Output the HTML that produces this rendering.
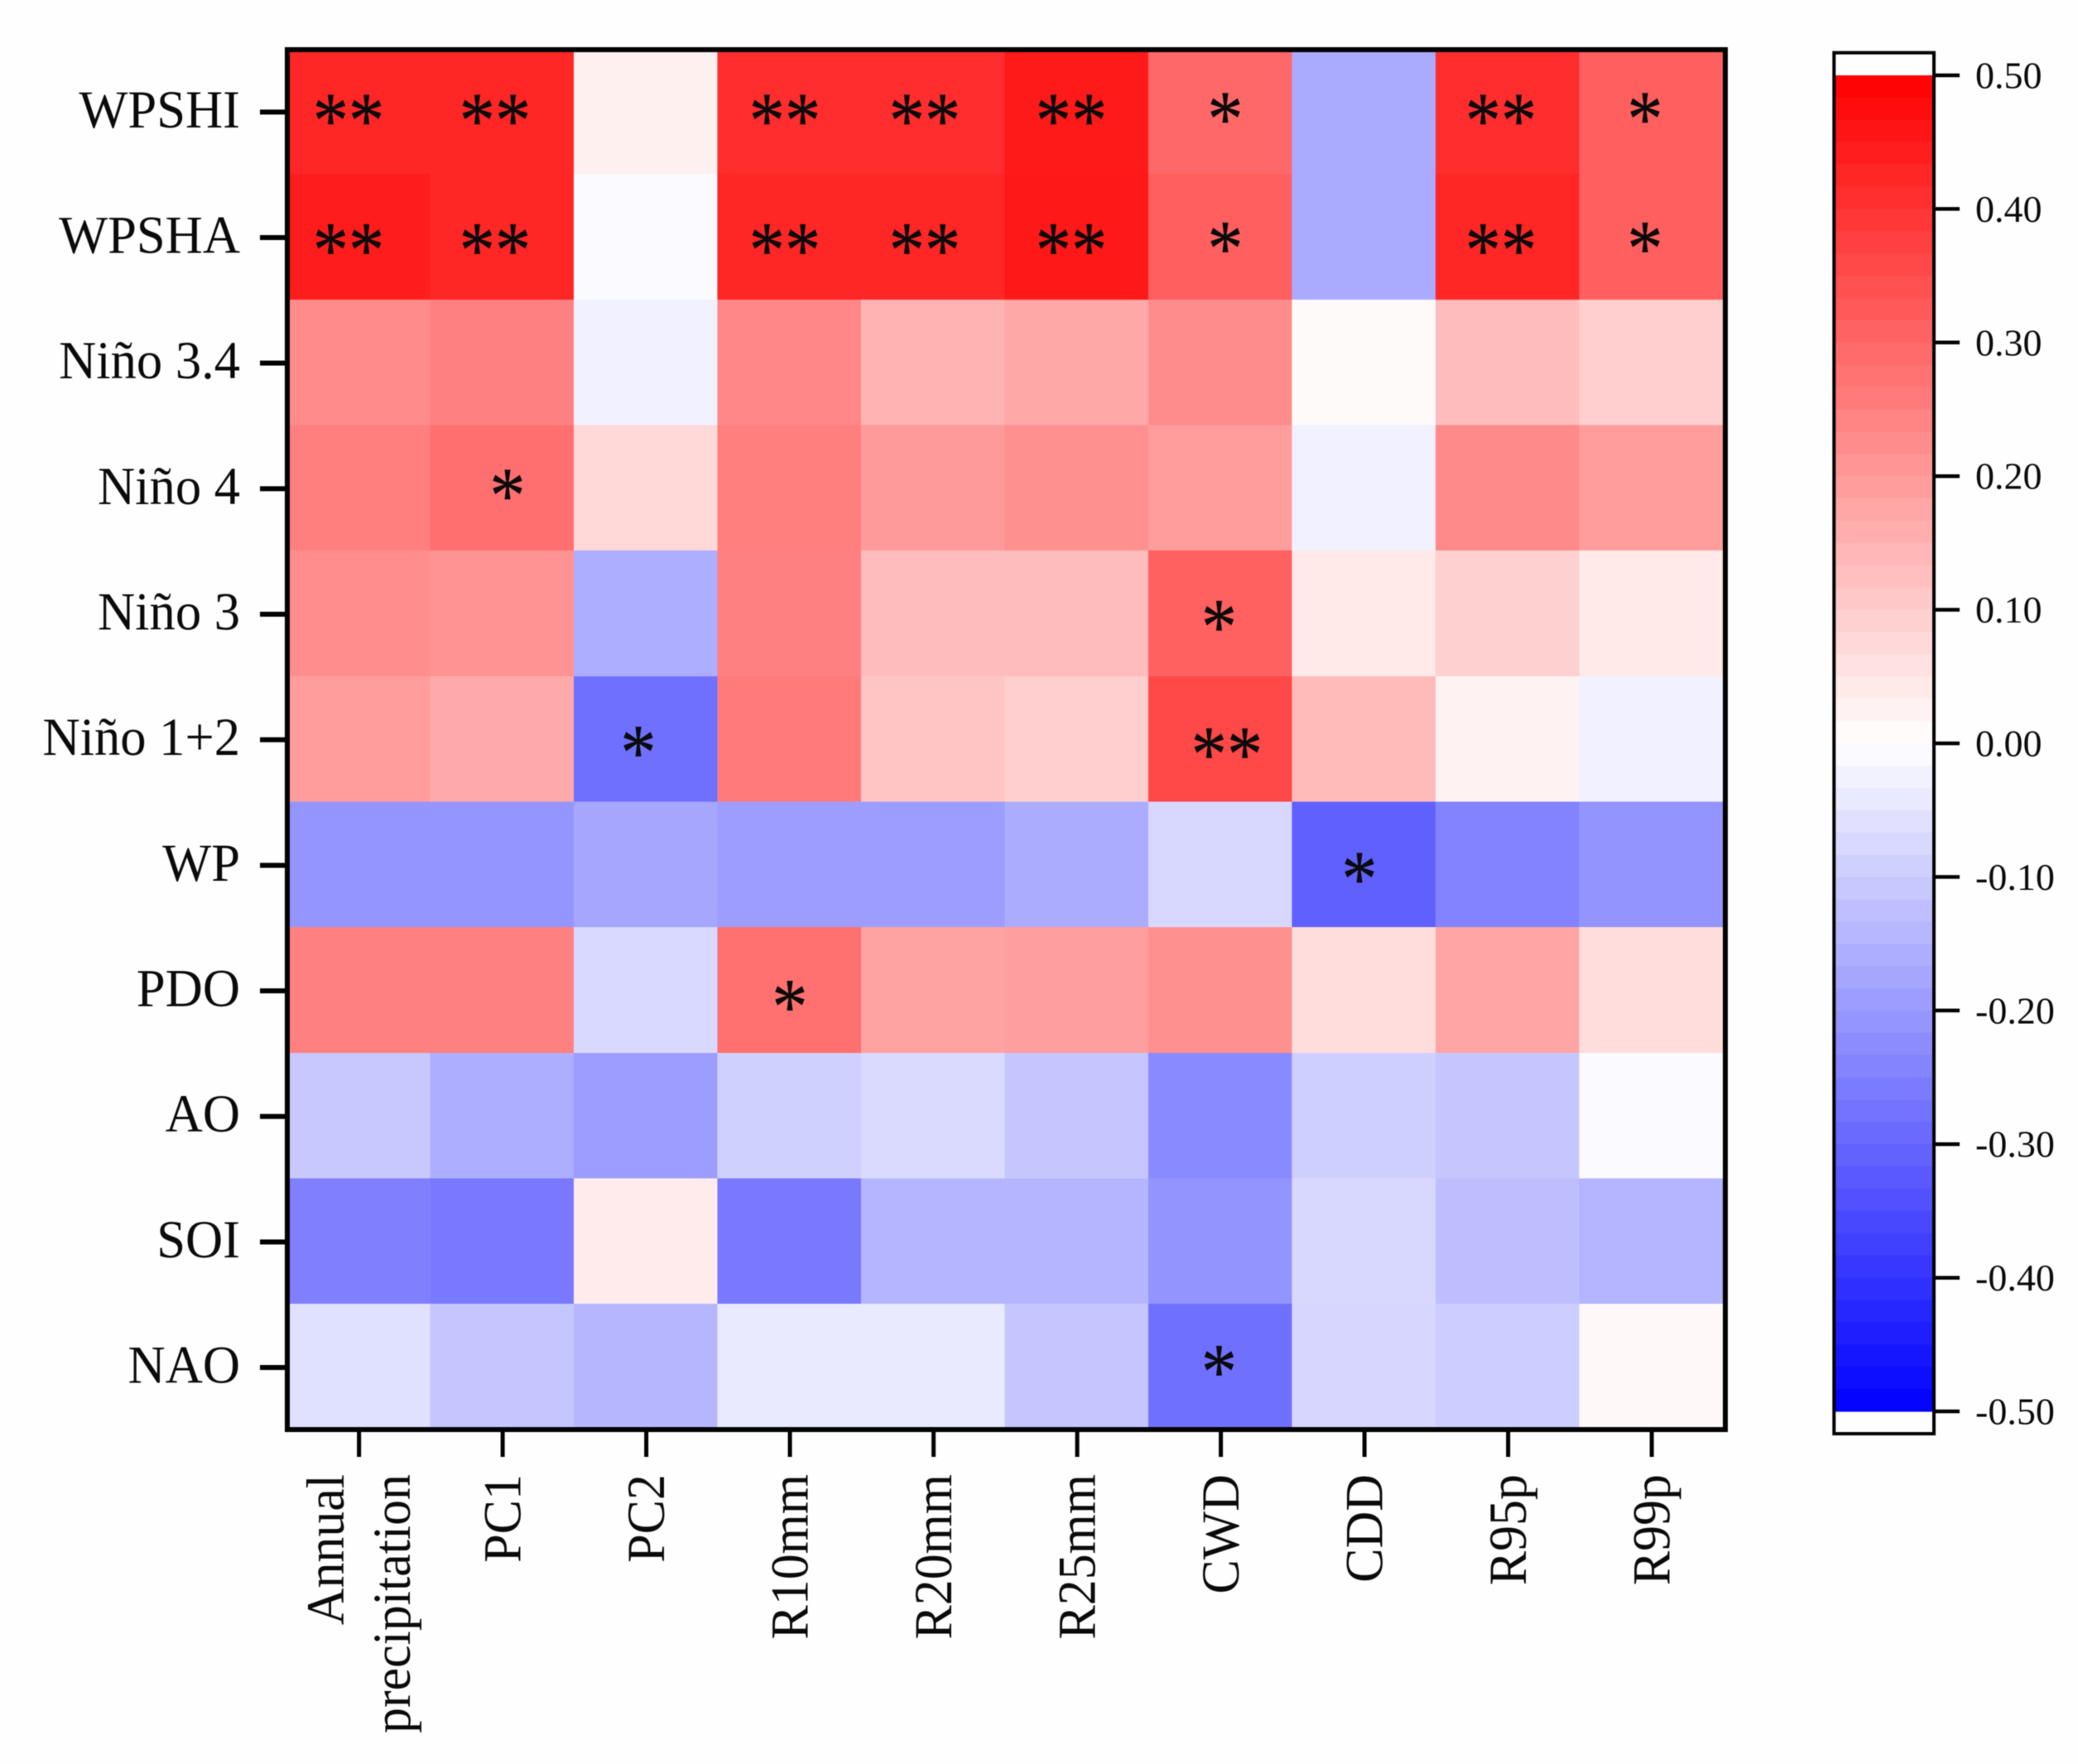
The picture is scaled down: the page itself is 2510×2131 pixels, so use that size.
<!DOCTYPE html>
<html lang="en">
<head>
<meta charset="utf-8">
<title>Correlation heatmap</title>
<style>
html,body{margin:0;padding:0;background:#fff;}
svg{display:block;filter:blur(0.6px);}
text{font-family:"Liberation Serif","Noto Serif CJK SC",serif;fill:#0a0a0a;}
</style>
</head>
<body>
<svg id="chart" xmlns="http://www.w3.org/2000/svg" width="2510" height="2131" viewBox="0 0 2510 2131"></svg>
<script>
const rowLabels = ["WPSHI","WPSHA","Niño 3.4","Niño 4","Niño 3","Niño 1+2","WP","PDO","AO","SOI","NAO"];
const colLabels = [["Annual","precipitation"],["PC1"],["PC2"],["R10mm"],["R20mm"],["R25mm"],["CWD"],["CDD"],["R95p"],["R99p"]];
const correlations = [
  [ .425, .425, .029, .412, .412, .449, .296,-.167, .412, .314],
  [ .445, .425,-.008, .425, .425, .453, .314,-.167, .425, .314],
  [ .227, .249,-.027, .235, .149, .171, .225, .010, .131, .094],
  [ .251, .282, .076, .251, .198, .218, .194,-.027, .229, .192],
  [ .224, .214,-.159, .249, .131, .131, .312, .043, .092, .043],
  [ .192, .167,-.280, .261, .114, .094, .359, .135, .025,-.027],
  [-.208,-.208,-.175,-.192,-.192,-.163,-.076,-.312,-.243,-.210],
  [ .249, .249,-.075, .280, .182, .190, .218, .067, .176, .067],
  [-.108,-.159,-.192,-.092,-.073,-.112,-.229,-.094,-.112,-.010],
  [-.249,-.263, .039,-.263,-.145,-.145,-.210,-.076,-.127,-.147],
  [-.061,-.112,-.143,-.041,-.041,-.112,-.280,-.080,-.098, .014]
];
const significance = [
  ["**","**","","**","**","**","*","","**","*"],
  ["**","**","","**","**","**","*","","**","*"],
  ["","","","","","","","","",""],
  ["","*","","","","","","","",""],
  ["","","","","","","*","","",""],
  ["","","*","","","","**","","",""],
  ["","","","","","","","*","",""],
  ["","","","*","","","","","",""],
  ["","","","","","","","","",""],
  ["","","","","","","","","",""],
  ["","","","","","","*","","",""]
];
const colorbarTicks = [0.5,0.4,0.3,0.2,0.1,0,-0.1,-0.2,-0.3,-0.4,-0.5];
const colorbarTickLabels = ["0.50","0.40","0.30","0.20","0.10","0.00","-0.10","-0.20","-0.30","-0.40","-0.50"];

const SVG_NS = "http://www.w3.org/2000/svg";
const chart = document.getElementById("chart");

function make(tag, attrs, parent) {
  const node = document.createElementNS(SVG_NS, tag);
  for (const key in attrs) node.setAttribute(key, attrs[key]);
  (parent || chart).appendChild(node);
  return node;
}

/* Axis functions */
const plotLeft = 346.2, colWidth = 173.5, plotTop = 58.5, rowHeight = 151.67;
function xLeft(c) { return plotLeft + c * colWidth; }
function xMid(c) { return xLeft(c) + colWidth / 2; }
function yTop(r) { return plotTop + r * rowHeight; }
function yMid(r) { return yTop(r) + rowHeight / 2; }
function cbY(v) { return 898 - v * 1614; }

/* Diverging colour scale: blue (-0.5) - white (0) - red (+0.5) */
function color(v) {
  const g = Math.round(255 * (1 - Math.min(0.5, Math.abs(v)) / 0.5));
  return v >= 0 ? `rgb(255,${g},${g})` : `rgb(${g},${g},255)`;
}

const bg = make("rect", {x:0, y:0, width:2510, height:2131, fill:"#fefefe"});



/* Heatmap cells */
const cellGroup = make("g", {"shape-rendering":"crispEdges"});


correlations.forEach((row, r) => {
  row.forEach((v, c) => {
    const cell = make("rect", {x:xLeft(c), y:yTop(r), width:colWidth + 0.5, height:rowHeight + 0.5, fill:color(v)}, cellGroup);
    
    
  });
});

/* Small hand placement of the significance stars relative to their cell centre */
function starNudge(r, c, label) {
  const dxByCol = {0:-12, 1:-8.5, 3:-5.5, 4:-10, 5:-6.5, 6:6, 8:-8, 9:-7.5};
  if (r === 0) return [dxByCol[c], label === "*" ? -2 : 0];
  if (r === 1) return [dxByCol[c], label === "*" ? 3 : 5];
  if (r === 3) return [6.5, -2];
  if (r === 4) return [-1.5, 5];
  if (r === 5) return c === 2 ? [-9, 5] : [8, 7];
  if (r === 6) return [-5.5, 6];
  if (r === 7) return [0.5, 9];
  return [-1.5, -5];
}
const starSize = 96;
significance.forEach((row, r) => {
  row.forEach((label, c) => {
    if (!label) return;
    const n = starNudge(r, c, label);
    const star = make("text", {transform:`translate(${xMid(c) + n[0]},${yMid(r) + n[1] + starSize * 0.455}) scale(0.9,1)`, "text-anchor":"middle", "font-size":starSize, fill:"#000", stroke:"#000", "stroke-width":0.4});
    star.textContent = label;
    
    
  });
});

/* Plot frame */
const frame = make("rect", {x:347, y:60, width:1737, height:1667, fill:"none", stroke:"#000", "stroke-width":6});



/* Y axis */
rowLabels.forEach((label, r) => {
  const ty = yMid(r) + 1;
  const tick = make("line", {x1:314, x2:345, y1:ty, y2:ty, stroke:"#000", "stroke-width":6});
  
  
  const text = make("text", {transform:`translate(290,${ty + 18.5}) scale(0.97,1)`, "text-anchor":"end", "font-size":64.5});
  text.textContent = label;
  
  
});

/* X axis */
colLabels.forEach((lines, c) => {
  const tx = xMid(c) + 0.7;
  const tick = make("line", {x1:tx, x2:tx, y1:1729, y2:1760, stroke:"#000", "stroke-width":5});
  
  
  lines.forEach((line, i) => {
    const bx = tx + 21.5 + (i - (lines.length - 1) / 2) * 80;
    const text = make("text", {transform:`translate(${bx},1781) rotate(-90) scale(0.96,1)`, "text-anchor":"end", "font-size":64.5});
    text.textContent = line;
    
    
  });
});

/* Colour bar */
const barGroup = make("g", {"shape-rendering":"crispEdges"});


for (let i = 0; i < 60; i++) {
  const hi = 0.5 - i / 60, lo = hi - 1 / 60;
  const band = make("rect", {x:2215, y:cbY(hi), width:121, height:cbY(lo) - cbY(hi) + 0.5, fill:color((hi + lo) / 2)}, barGroup);
  
  
}
const barFrame = make("rect", {x:2215.3, y:63.7, width:120.7, height:1668.3, fill:"none", stroke:"#000", "stroke-width":4});


colorbarTicks.forEach((v, i) => {
  const ty = cbY(v);
  const tick = make("line", {x1:2337, x2:2367, y1:ty, y2:ty, stroke:"#000", "stroke-width":4.5});
  
  
  const text = make("text", {x:2386, y:ty + 15.5, "font-size":46});
  text.textContent = colorbarTickLabels[i];
  
  
});
</script>
</body>
</html>
